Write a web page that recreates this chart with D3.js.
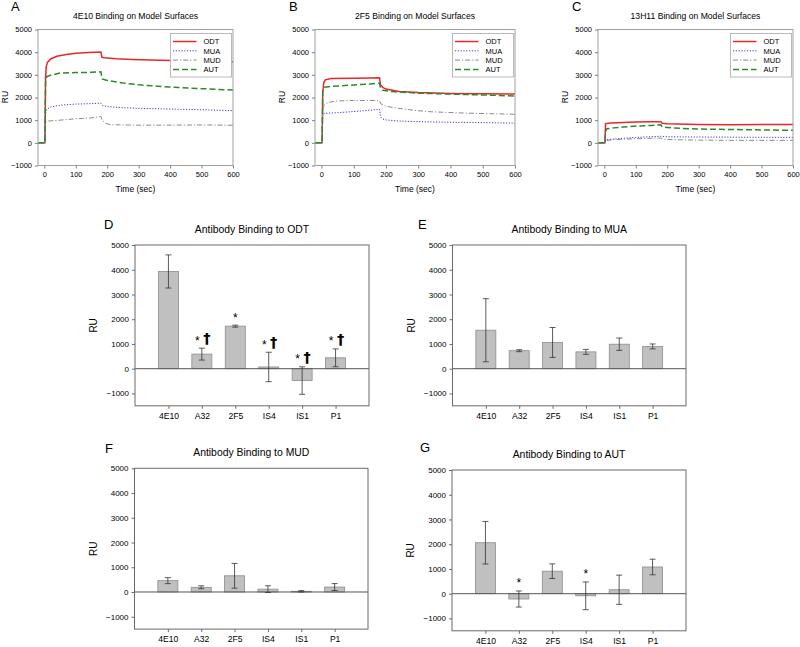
<!DOCTYPE html>
<html><head><meta charset="utf-8">
<script src="https://cdn.jsdelivr.net/npm/d3@7"></script>
<style>body{margin:0;background:#fff} text{font-family:"Liberation Sans",Arial,Helvetica,sans-serif;fill:#000}</style>
</head><body><svg id="c" width="800" height="647"></svg>
<script>
// ---------- DATA ----------
const timeTicks=[0,100,200,300,400,500,600];
const ruTicks=[-1000,0,1000,2000,3000,4000,5000];
const surfaces=["ODT","MUA","MUD","AUT"];
const antibodies=["4E10","A32","2F5","IS4","IS1","P1"];

// Sensorgram A: 4E10 [time (sec), RU]
const a_ODT=[[-20,0],[2,0],[4,2800],[6,3350],[10,3550],[20,3700],[40,3820],[70,3900],[100,3950],[140,3990],[180,4010],[183,3780],[190,3750],[230,3710],[280,3680],[370,3640],[480,3610],[600,3580]];
const a_MUA=[[-20,0],[2,0],[4,1300],[8,1480],[20,1580],[50,1660],[100,1710],[150,1730],[180,1750],[185,1650],[200,1600],[250,1550],[300,1520],[400,1490],[500,1460],[600,1420]];
const a_MUD=[[-20,0],[2,0],[4,900],[10,960],[50,1000],[100,1060],[150,1100],[180,1160],[184,1000],[195,860],[210,800],[300,780],[400,780],[500,790],[600,775]];
const a_AUT=[[-20,0],[2,0],[4,2700],[8,2920],[20,2980],[50,3080],[100,3100],[150,3110],[180,3130],[184,2820],[200,2750],[250,2640],[300,2560],[400,2460],[500,2390],[600,2330]];
// Sensorgram B: 2F5
const b_ODT=[[-20,0],[2,0],[4,2200],[7,2650],[12,2780],[30,2840],[100,2850],[150,2860],[180,2870],[183,2560],[190,2450],[200,2370],[240,2270],[300,2220],[400,2180],[500,2160],[600,2150]];
const b_MUA=[[-20,0],[2,0],[4,1250],[10,1300],[50,1330],[100,1380],[150,1440],[180,1480],[183,1150],[190,1050],[200,1010],[240,960],[340,920],[450,900],[600,870]];
const b_MUD=[[-20,0],[2,0],[4,1500],[8,1650],[20,1780],[50,1850],[100,1870],[150,1870],[180,1860],[184,1720],[200,1610],[240,1520],[290,1430],[340,1370],[450,1310],[600,1260]];
const b_AUT=[[-20,0],[2,0],[4,2300],[8,2450],[30,2490],[100,2550],[150,2600],[180,2630],[183,2400],[190,2320],[220,2260],[300,2190],[400,2150],[500,2110],[600,2070]];
// Sensorgram C: 13H11
const c_ODT=[[-20,0],[2,0],[4,850],[20,880],[60,900],[100,920],[150,930],[180,930],[184,860],[200,840],[300,810],[400,800],[500,810],[600,810]];
const c_MUA=[[-20,0],[2,0],[5,130],[30,170],[60,200],[100,240],[150,270],[180,290],[190,270],[250,260],[400,250],[600,240]];
const c_MUD=[[-20,0],[2,0],[5,100],[30,140],[60,160],[100,180],[150,200],[180,210],[188,160],[220,140],[300,120],[400,110],[600,110]];
const c_AUT=[[-20,0],[2,0],[4,500],[8,620],[30,660],[60,700],[100,740],[150,770],[180,800],[184,700],[200,680],[250,630],[300,610],[400,590],[500,570],[600,550]];

// Bar charts: mean and SD per antibody
const odtMean=[3930,590,1720,70,-480,440];
const odtSD=[670,240,40,595,555,360];
const odtMarks=["","*†","*","*†","*†","*†"];
const muaMean=[1555,728,1060,680,990,900];
const muaSD=[1275,40,605,100,250,100];
const muaMarks=["","","","","",""];
const mudMean=[458,190,655,115,27,200];
const mudSD=[121,60,500,135,27,140];
const mudMarks=["","","","","",""];
const autMean=[2060,-215,910,-85,160,1080];
const autSD=[860,325,295,560,590,315];
const autMarks=["","*","","*","",""];

// ---------- DRAW ----------
const svg=d3.select("#c");
svg.append("rect").attr("width",800).attr("height",647).attr("fill","#fff");
const FONT='"Liberation Sans",Arial,sans-serif';
const fmt=d3.format("d");

const styles={
  ODT:{stroke:"#e8262b",dash:null,w:1.5},
  MUA:{stroke:"#3a3ad6",dash:"1.2,1.6",w:1},
  MUD:{stroke:"#8a8a8a",dash:"5,2,1.2,2",w:1},
  AUT:{stroke:"#2a8a2e",dash:"6,3",w:1.5}
};

function letter(x,y,t){
  svg.append("text").attr("x",x).attr("y",y).attr("font-size",13).text(t);
}

function sensorgram(id,x0,x1,title,series){
  const top=29.5,bot=165.5;
  const x=d3.scaleLinear().domain([-20,600]).range([x0,x1]);
  const y=d3.scaleLinear().domain([-1000,5000]).range([bot,top]);
  const g=svg.append("g");
  g.append("clipPath").attr("id","clip"+id).append("rect")
    .attr("x",x0).attr("y",top).attr("width",x1-x0).attr("height",bot-top);
  const line=d3.line().x(d=>x(d[0])).y(d=>y(d[1]));
  surfaces.forEach((s,i)=>{
    const st=styles[s];
    g.append("path").attr("d",line(series[i])).attr("fill","none")
      .attr("stroke",st.stroke).attr("stroke-width",st.w)
      .attr("stroke-dasharray",st.dash).attr("clip-path","url(#clip"+id+")");
  });
  g.append("rect").attr("x",x0).attr("y",top).attr("width",x1-x0).attr("height",bot-top)
    .attr("fill","none").attr("stroke","#a0a0a0").attr("stroke-width",1);
  // legend
  const lx=x1-62.5, ly=33.5;
  g.append("rect").attr("x",lx).attr("y",ly).attr("width",61).attr("height",43.5)
    .attr("fill","#fff").attr("stroke","#a8a8a8").attr("stroke-width",0.8);
  surfaces.forEach((s,i)=>{
    const st=styles[s], yy=ly+8+i*9.3;
    g.append("line").attr("x1",lx+2.5).attr("x2",lx+26).attr("y1",yy).attr("y2",yy)
      .attr("stroke",st.stroke).attr("stroke-width",st.w).attr("stroke-dasharray",st.dash);
    g.append("text").attr("x",lx+33).attr("y",yy+2.7).attr("font-size",7.5).text(s);
  });
  // axes
  const ax=g.append("g").attr("transform",`translate(0,${bot})`)
    .call(d3.axisBottom(x).tickValues(timeTicks).tickFormat(fmt).tickSize(3).tickPadding(3));
  const ay=g.append("g").attr("transform",`translate(${x0},0)`)
    .call(d3.axisLeft(y).tickValues(ruTicks).tickFormat(fmt).tickSize(3).tickPadding(3));
  [ax,ay].forEach(a=>{a.select(".domain").remove();
    a.selectAll("line").attr("stroke","#808080");
    a.selectAll("text").attr("font-size",7.5).attr("font-family",FONT).attr("fill","#222");});
  g.append("text").attr("x",(x0+x1)/2).attr("y",18.5).attr("text-anchor","middle")
    .attr("font-size",8.6).text(title);
  g.append("text").attr("x",(x0+x1)/2).attr("y",192).attr("text-anchor","middle")
    .attr("font-size",8.5).text("Time (sec)");
  g.append("text").attr("transform",`translate(${x0-30.5},${97})rotate(-90)`)
    .attr("text-anchor","middle").attr("font-size",8.5).text("RU");
}

function barPanel(x0,x1,top,title,mean,sd,marks){
  const y=d3.scaleLinear().domain([-1500,5000]).range([top+160.8,top]);
  const x=d3.scalePoint().domain(antibodies).range([x0,x1]).padding(1);
  const bot=top+160.8;
  const g=svg.append("g");
  const bw=20;
  antibodies.forEach((a,i)=>{
    const v=mean[i];
    g.append("rect").attr("x",x(a)-bw/2).attr("y",y(Math.max(0,v)))
      .attr("width",bw).attr("height",Math.abs(y(v)-y(0)))
      .attr("fill","#c0c0c0").attr("stroke","#8c8c8c").attr("stroke-width",0.8);
  });
  g.append("line").attr("x1",x0).attr("x2",x1).attr("y1",y(0)).attr("y2",y(0))
    .attr("stroke","#555").attr("stroke-width",1);
  antibodies.forEach((a,i)=>{
    const lo=y(mean[i]-sd[i]), hi=y(mean[i]+sd[i]), cx=x(a);
    g.append("line").attr("x1",cx).attr("x2",cx).attr("y1",lo).attr("y2",hi).attr("stroke","#333").attr("stroke-width",0.8);
    [lo,hi].forEach(yy=>g.append("line").attr("x1",cx-3).attr("x2",cx+3).attr("y1",yy).attr("y2",yy).attr("stroke","#333").attr("stroke-width",0.8));
    const m=marks[i];
    if(m==="*"){
      g.append("text").attr("x",cx).attr("y",hi-3.5).attr("text-anchor","middle").attr("font-size",12).text("*");
    } else if(m==="*†"){
      g.append("text").attr("x",cx-4.5).attr("y",hi-3.5).attr("text-anchor","middle").attr("font-size",12).text("*");
      g.append("text").attr("x",cx+5).attr("y",hi-4.8).attr("text-anchor","middle")
        .attr("font-size",14.5).style("font-family","'DejaVu Sans',sans-serif").style("font-weight","bold")
        .style("fill","#000").text("†");
    }
  });
  g.append("rect").attr("x",x0).attr("y",top).attr("width",x1-x0).attr("height",bot-top)
    .attr("fill","none").attr("stroke","#6a6a6a").attr("stroke-width",1);
  const ax=g.append("g").attr("transform",`translate(0,${bot})`)
    .call(d3.axisBottom(x).tickSize(3).tickPadding(4));
  const ay=g.append("g").attr("transform",`translate(${x0},0)`)
    .call(d3.axisLeft(y).tickValues(ruTicks).tickFormat(fmt).tickSize(3).tickPadding(3));
  ax.selectAll("text").attr("font-size",8.6);
  ay.selectAll("text").attr("font-size",8);
  [ax,ay].forEach(a=>{a.select(".domain").remove();
    a.selectAll("line").attr("stroke","#6a6a6a");
    a.selectAll("text").attr("font-family",FONT).attr("fill","#222");});
  g.append("text").attr("x",(x0+x1)/2).attr("y",top-12.5).attr("text-anchor","middle")
    .attr("font-size",10.4).text(title);
  g.append("text").attr("transform",`translate(${x0-38},${(top+bot)/2})rotate(-90)`)
    .attr("text-anchor","middle").attr("font-size",10).text("RU");
}

sensorgram("A",38,233,"4E10 Binding on Model Surfaces",[a_ODT,a_MUA,a_MUD,a_AUT]);
sensorgram("B",315,515,"2F5 Binding on Model Surfaces",[b_ODT,b_MUA,b_MUD,b_AUT]);
sensorgram("C",598,793,"13H11 Binding on Model Surfaces",[c_ODT,c_MUA,c_MUD,c_AUT]);
letter(11,11,"A"); letter(289,11,"B"); letter(572,11,"C");

barPanel(135,369,245,"Antibody Binding to ODT",odtMean,odtSD,odtMarks);
barPanel(452.5,686,245,"Antibody Binding to MUA",muaMean,muaSD,muaMarks);
barPanel(134.5,368,468.3,"Antibody Binding to MUD",mudMean,mudSD,mudMarks);
barPanel(452,686,470,"Antibody Binding to AUT",autMean,autSD,autMarks);
letter(104,229,"D"); letter(418,229,"E"); letter(105,453,"F"); letter(420,452,"G");
</script></body></html>
